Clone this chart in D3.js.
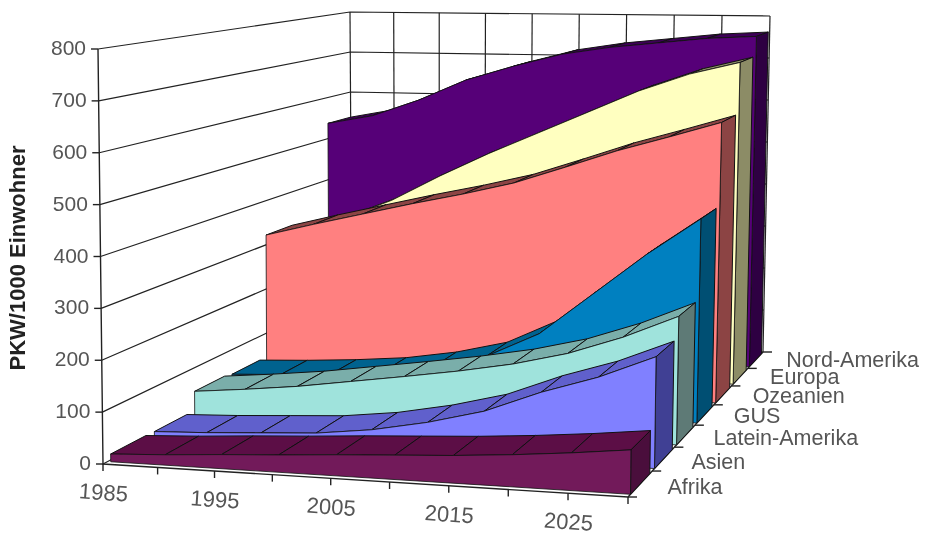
<!DOCTYPE html>
<html>
<head>
<meta charset="utf-8">
<script src="https://cdn.jsdelivr.net/npm/d3@7"></script>
<style>
  html, body { margin: 0; padding: 0; background: #fff; }
  svg { display: block; filter: blur(0.5px); }
  text { font-family: "Liberation Sans", Arial, sans-serif; fill: #555; }
</style>
</head>
<body>
<script>
var years = [1985, 1990, 1995, 2000, 2005, 2010, 2015, 2020, 2025, 2030];
var yearLabels = [1985, 1995, 2005, 2015, 2025];
var valueTicks = [0, 100, 200, 300, 400, 500, 600, 700, 800];

var seriesNames = ["Afrika", "Asien", "Latein-Amerika", "GUS", "Ozeanien", "Europa", "Nord-Amerika"];

var afrika = [15, 20, 27, 33, 40, 46, 52, 60, 70, 82];
var asien = [14, 18, 24, 30, 43, 64, 92, 135, 170, 215];
var lateinAmerika = [54, 64, 76, 92, 108, 125, 145, 172, 210, 257];
var gus = [50, 55, 62, 72, 90, 117, 170, 258, 346, 424];
var ozeanien = [325, 353, 380, 407, 432, 460, 498, 537, 570, 604];
var europa = [300, 340, 385, 445, 500, 550, 600, 650, 690, 718];
var nordAmerika = [539, 560, 600, 650, 685, 715, 733, 745, 757, 763];

var seriesValues = [afrika, asien, lateinAmerika, gus, ozeanien, europa, nordAmerika];

var frontColors = ["#721a5a", "#8080ff", "#9fe3dc", "#0080c0", "#ff8080", "#ffffc0", "#560078"];
var topColors = ["#5c0e46", "#6060cc", "#7aaeaa", "#00628f", "#8c4444", "#8c8c66", "#3d0056"];
var sideColors = ["#4a0e3c", "#404094", "#5e7a76", "#004f73", "#8c4444", "#8c8c66", "#2e0042"];

var svg = d3.select("body").append("svg").attr("width", 925).attr("height", 540);

var x = d3.scalePoint().domain(years).range([0, 1]);
var xMarks = x.copy().range([0.007, 1]);   // the areas start a little off the wall
var y = d3.scaleLinear().domain([0, 800]).range([0, 1]);
var z = d3.scaleBand().domain(seriesNames).range([0, 1]).paddingInner(0.2).paddingOuter(0.1);
var warp = d3.scalePow().exponent(1.03).domain([0, 1]).range([0, 1]);

// box corners on screen, order: front-left, front-right, back-right, back-left
var floorQuad = [[103, 464], [628, 497], [763, 352], [352, 332]];
var roofQuad = [[98, 49], [632, 62], [770, 16], [350, 12]];

// unit square -> quad
function homography(q) {
  var dx1 = q[1][0] - q[2][0], dx2 = q[3][0] - q[2][0], sx = q[0][0] - q[1][0] + q[2][0] - q[3][0],
      dy1 = q[1][1] - q[2][1], dy2 = q[3][1] - q[2][1], sy = q[0][1] - q[1][1] + q[2][1] - q[3][1],
      det = dx1 * dy2 - dx2 * dy1,
      g = (sx * dy2 - dx2 * sy) / det,
      h = (dx1 * sy - sx * dy1) / det;
  return function(u, v) {
    var w = g * u + h * v + 1;
    return [
      ((q[1][0] - q[0][0] + g * q[1][0]) * u + (q[3][0] - q[0][0] + h * q[3][0]) * v + q[0][0]) / w,
      ((q[1][1] - q[0][1] + g * q[1][1]) * u + (q[3][1] - q[0][1] + h * q[3][1]) * v + q[0][1]) / w
    ];
  };
}
var floorAt = homography(floorQuad), roofAt = homography(roofQuad);

function along(f, u, v) {
  var l = f(0, v), r = f(1, v), k = warp(u);
  return [l[0] + (r[0] - l[0]) * k, l[1] + (r[1] - l[1]) * k];
}

// u along years, t up the value axis, v into the depth (all 0..1)
function project(u, t, v) {
  var a = along(floorAt, u, v), b = along(roofAt, u, v);
  return [a[0] + (b[0] - a[0]) * t, a[1] + (b[1] - a[1]) * t];
}

var line = d3.line();
var path = function(pts) { return line(pts) + "Z"; };

// walls
var grid = svg.append("g").attr("fill", "none").attr("stroke", "#222").attr("stroke-width", 1.2);

grid.selectAll(".wall-h")
  .data(valueTicks)
  .enter().append("path")
    .attr("class", "wall-h")
    .attr("d", function(d) {
      return line([project(0, y(d), 0), project(0, y(d), 1), project(1, y(d), 1)]);
    });

grid.selectAll(".wall-v")
  .data(years)
  .enter().append("path")
    .attr("class", "wall-v")
    .attr("d", function(d) { return line([project(x(d), 0, 1), project(x(d), 1, 1)]); });

// axes
var axes = svg.append("g").attr("fill", "none").attr("stroke", "#222").attr("stroke-width", 1.4);
axes.append("path").attr("d", line([project(0, 1, 0), project(0, 0, 0), project(1, 0, 0), project(1, 0, 1)]));

axes.selectAll(".tick-y")
  .data(valueTicks)
  .enter().append("path")
    .attr("class", "tick-y")
    .attr("d", function(d) {
      var p = project(0, y(d), 0);
      return line([[p[0] - 7, p[1]], p]);
    });

axes.selectAll(".tick-x")
  .data(years)
  .enter().append("path")
    .attr("class", "tick-x")
    .attr("d", function(d) {
      var p = project(x(d), 0, 0);
      return line([p, [p[0], p[1] + 7]]);
    });

axes.selectAll(".tick-z")
  .data(d3.range(seriesNames.length + 1))
  .enter().append("path")
    .attr("class", "tick-z")
    .attr("d", function(d) {
      var p = project(1, 0, d * z.step());
      return line([p, [p[0] + 9, p[1]]]);
    });

// series, back to front
var order = d3.range(seriesNames.length).reverse();

order.forEach(function(s) {
  var name = seriesNames[s],
      vals = seriesValues[s],
      front = z(name),
      back = z(name) + z.bandwidth();

  var g = svg.append("g").attr("stroke", "#111").attr("stroke-width", 1).attr("stroke-linejoin", "round");

  g.selectAll(".top")
    .data(d3.pairs(years.map(function(d, i) { return [d, vals[i]]; })))
    .enter().append("path")
      .attr("class", "top")
      .attr("fill", topColors[s])
      .attr("d", function(d) {
        return path([
          project(xMarks(d[0][0]), y(d[0][1]), front),
          project(xMarks(d[1][0]), y(d[1][1]), front),
          project(xMarks(d[1][0]), y(d[1][1]), back),
          project(xMarks(d[0][0]), y(d[0][1]), back)
        ]);
      });

  var last = vals[vals.length - 1];
  g.append("path")
    .attr("fill", sideColors[s])
    .attr("d", path([project(1, 0, front), project(1, y(last), front), project(1, y(last), back), project(1, 0, back)]));

  var outline = years.map(function(d, i) { return project(xMarks(d), y(vals[i]), front); });
  outline.push(project(1, 0, front));
  outline.push(project(xMarks(years[0]), 0, front));
  g.append("path")
    .attr("fill", frontColors[s])
    .attr("stroke-width", 0.8)
    .attr("d", path(outline));
});

// labels
var labels = svg.append("g").attr("font-size", 21);

labels.selectAll(".label-y")
  .data(valueTicks)
  .enter().append("text")
    .attr("class", "label-y")
    .attr("text-anchor", "end")
    .attr("x", function(d) { return project(0, y(d), 0)[0] - 12; })
    .attr("y", function(d) { return project(0, y(d), 0)[1] + 6; })
    .text(function(d) { return d; });

labels.selectAll(".label-x")
  .data(yearLabels)
  .enter().append("text")
    .attr("class", "label-x")
    .attr("text-anchor", "middle")
    .attr("font-size", 22)
    .attr("transform", function(d) {
      var p = project(x(d), 0, 0);
      return "translate(" + p[0] + "," + (p[1] + 36) + ") rotate(4)";
    })
    .text(function(d) { return d; });

labels.selectAll(".label-z")
  .data(seriesNames)
  .enter().append("text")
    .attr("class", "label-z")
    .attr("font-size", 21.5)
    .attr("x", function(d) { return project(1, 0, z(d))[0] + 37; })
    .attr("y", function(d) { return project(1, 0, z(d))[1]; })
    .text(function(d) { return d; });

svg.append("text")
  .attr("transform", "translate(25,258) rotate(-90)")
  .attr("text-anchor", "middle")
  .attr("font-size", 22)
  .attr("font-weight", "bold")
  .style("fill", "#222")
  .text("PKW/1000 Einwohner");
</script>
</body>
</html>
